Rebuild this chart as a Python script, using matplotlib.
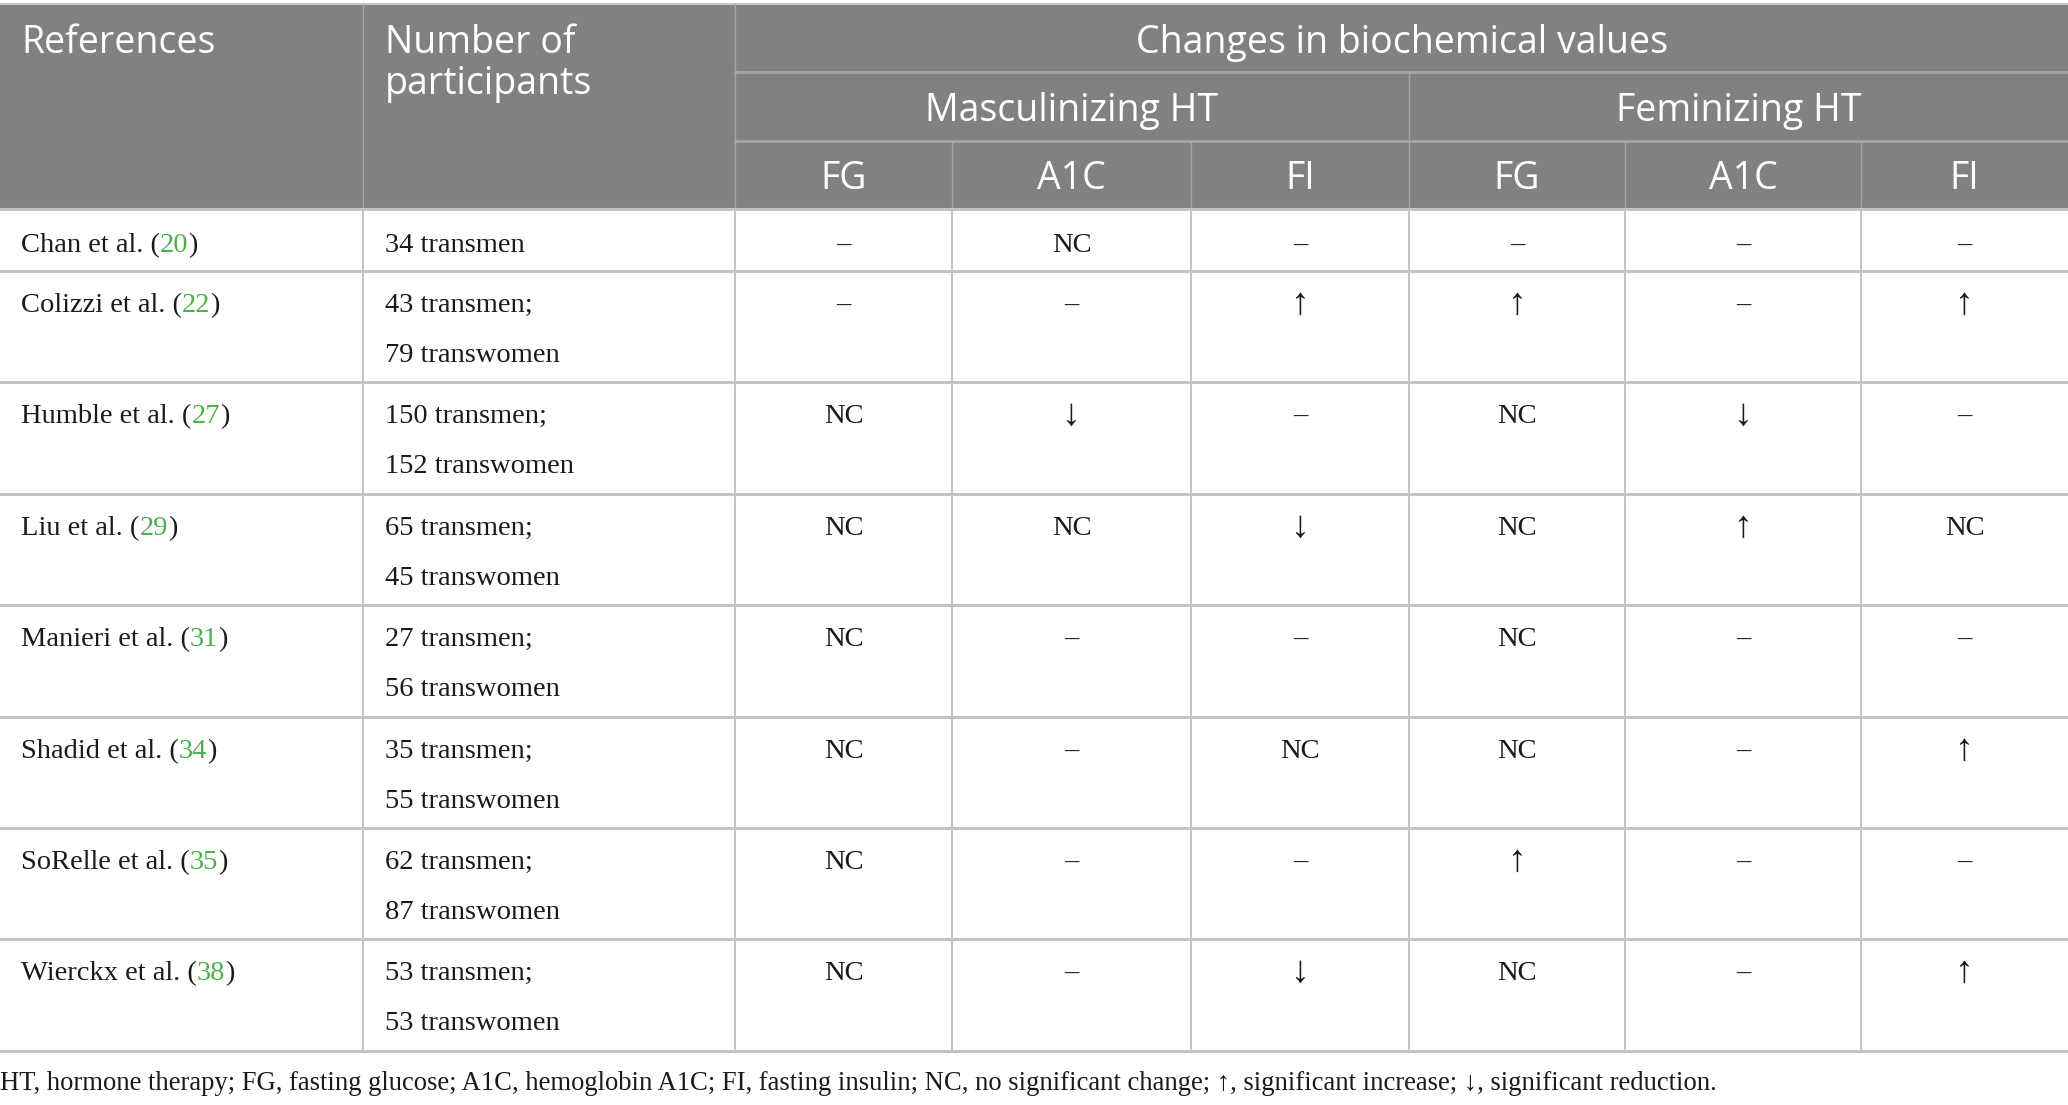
import matplotlib
matplotlib.use("Agg")
import matplotlib.pyplot as plt

# table content
refs = ["Chan et al.", "Colizzi et al.", "Humble et al.", "Liu et al.",
        "Manieri et al.", "Shadid et al.", "SoRelle et al.", "Wierckx et al."]
ref_nums = ["20", "22", "27", "29", "31", "34", "35", "38"]
participants = [
    ["34 transmen"],
    ["43 transmen;", "79 transwomen"],
    ["150 transmen;", "152 transwomen"],
    ["65 transmen;", "45 transwomen"],
    ["27 transmen;", "56 transwomen"],
    ["35 transmen;", "55 transwomen"],
    ["62 transmen;", "87 transwomen"],
    ["53 transmen;", "53 transwomen"],
]
masc_fg = ["–", "–", "NC", "NC", "NC", "NC", "NC", "NC"]
masc_a1c = ["NC", "–", "↓", "NC", "–", "–", "–", "–"]
masc_fi = ["–", "↑", "–", "↓", "–", "NC", "–", "↓"]
fem_fg = ["–", "↑", "NC", "NC", "NC", "NC", "↑", "NC"]
fem_a1c = ["–", "–", "↓", "↑", "–", "–", "–", "–"]
fem_fi = ["–", "↑", "–", "NC", "–", "↑", "–", "↑"]
sub_cols = ["FG", "A1C", "FI", "FG", "A1C", "FI"]
footnote = ("HT, hormone therapy; FG, fasting glucose; A1C, hemoglobin A1C; FI, fasting insulin; "
            "NC, no significant change; ↑, significant increase; ↓, significant reduction.")

W, H = 2068, 1105
fig = plt.figure(figsize=(W / 100, H / 100), dpi=100)
ax = fig.add_axes([0, 0, 1, 1])
ax.set_xlim(0, W)
ax.set_ylim(H, 0)
ax.axis("off")

col_x = [0, 363, 735, 952, 1191, 1409, 1625, 1861, 2068]
row_y = [209, 271, 382, 494, 605, 717, 828, 939, 1051]
head_y = [4, 72, 141, 209]

HEAD_BG = "#808180"
HEAD_LINE = "#a4a5a4"
BODY_LINE = "#c4c4c4"
GREEN = "#4cb04c"
INK = "#1a1a1a"
serif = ["Liberation Serif", "DejaVu Serif"]
sans = ["Open Sans", "DejaVu Sans"]
BODY_FS = 20.5
HEAD_FS = 27
ARROW_FS = 27

# header background
ax.fill_between([0, W], head_y[0], head_y[3], color=HEAD_BG, lw=0)
ax.plot([0, W], [head_y[0], head_y[0]], color="#c8c8c8", lw=1.5)

# header lines
ax.plot([col_x[2], W], [head_y[1]] * 2, color=HEAD_LINE, lw=2)
ax.plot([col_x[2], W], [head_y[2]] * 2, color=HEAD_LINE, lw=2)
for x in col_x[1:3]:
    ax.plot([x, x], [head_y[0], head_y[3]], color=HEAD_LINE, lw=1)
ax.plot([col_x[5], col_x[5]], [head_y[1], head_y[3]], color=HEAD_LINE, lw=1)
for x in [col_x[3], col_x[4], col_x[6], col_x[7]]:
    ax.plot([x, x], [head_y[2], head_y[3]], color=HEAD_LINE, lw=1)

# body grid
for y in row_y:
    ax.plot([0, W], [y, y], color=BODY_LINE, lw=2.2)
for x in col_x[1:-1]:
    ax.plot([x, x], [row_y[0], row_y[-1]], color=BODY_LINE, lw=1.4)

# header text
ax.text(col_x[0] + 21, 53, "References", color="white", fontsize=HEAD_FS,
        family=sans, va="baseline", ha="left")
ax.text(col_x[1] + 22, 53, "Number of", color="white", fontsize=HEAD_FS,
        family=sans, va="baseline", ha="left")
ax.text(col_x[1] + 22, 94, "participants", color="white", fontsize=HEAD_FS,
        family=sans, va="baseline", ha="left")
ax.text((col_x[2] + W) / 2, 53, "Changes in biochemical values", color="white",
        fontsize=HEAD_FS, family=sans, va="baseline", ha="center")
ax.text((col_x[2] + col_x[5]) / 2, 121, "Masculinizing HT", color="white",
        fontsize=HEAD_FS, family=sans, va="baseline", ha="center")
ax.text((col_x[5] + W) / 2, 121, "Feminizing HT", color="white",
        fontsize=HEAD_FS, family=sans, va="baseline", ha="center")
for i, name in enumerate(sub_cols):
    ax.text((col_x[i + 2] + col_x[i + 3]) / 2, 189, name, color="white",
            fontsize=HEAD_FS, family=sans, va="baseline", ha="center")

fig.canvas.draw()
renderer = fig.canvas.get_renderer()


def text_right(t):
    bb = t.get_window_extent(renderer)
    return ax.transData.inverted().transform((bb.x1, bb.y0))[0]


values = [masc_fg, masc_a1c, masc_fi, fem_fg, fem_a1c, fem_fi]
for r in range(len(refs)):
    top = row_y[r]
    if len(participants[r]) == 1:
        base = [252]
    else:
        base = [top + 41, top + 91]
    # reference with green citation number
    t1 = ax.text(col_x[0] + 21, base[0], refs[r] + " (", fontsize=BODY_FS,
                 family=serif, color=INK, va="baseline", ha="left")
    x2 = text_right(t1)
    t2 = ax.text(x2, base[0], ref_nums[r], fontsize=BODY_FS, family=serif,
                 color=GREEN, va="baseline", ha="left")
    x3 = text_right(t2)
    ax.text(x3, base[0], ")", fontsize=BODY_FS, family=serif,
            color=INK, va="baseline", ha="left")
    for k, line in enumerate(participants[r]):
        ax.text(col_x[1] + 22, base[k], line, fontsize=BODY_FS, family=serif,
                color=INK, va="baseline", ha="left")
    for c, vals in enumerate(values):
        v = vals[r]
        fs = ARROW_FS if v in ("↑", "↓") else BODY_FS
        ax.text((col_x[c + 2] + col_x[c + 3]) / 2, base[0] + (2 if fs == ARROW_FS else 0), v,
                fontsize=fs, family=serif, color=INK,
                va="baseline", ha="center")

ax.text(0, 1090, footnote, fontsize=19.2, family=serif, color=INK,
        va="baseline", ha="left")

fig.savefig("out.png", dpi=100)
